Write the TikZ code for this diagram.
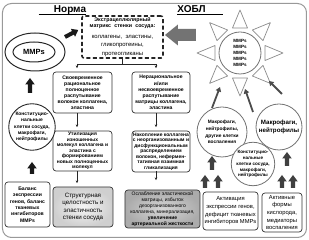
\documentclass[tikz,border=0pt]{standalone}
\usepackage{fontspec}
\setmainfont{Liberation Sans}
\usetikzlibrary{arrows.meta,shapes.geometric}
\newcommand\blkarr[8]{%
  \begin{scope}[shift={(#1,#2)},rotate=#3]
    \fill[#8] (0,#5) -- ({#4-#7},#5) -- ({#4-#7},#6) -- (#4,0) -- ({#4-#7},-#6) -- ({#4-#7},-#5) -- (0,-#5) -- cycle;
  \end{scope}}
\begin{document}
\begin{tikzpicture}[x=1pt,y=-1pt,
  box/.style={draw=black!80,line width=0.7pt,rounded corners=3pt,align=center,inner sep=0pt,fill=white},
  bsm/.style={font=\bfseries\fontsize{5.1}{6.1}\selectfont},
  bxs/.style={font=\bfseries\fontsize{4.95}{5.5}\selectfont},
  conn/.style={draw=black!85,line width=0.5pt,-{Stealth[length=2.8pt,width=2.6pt]},shorten >=3.5pt},
  ray/.style={draw=black!70,line width=1.8pt,-{Triangle[length=4.5pt,width=5.5pt]}},
  circ/.style={circle,draw=black!55,line width=0.8pt,align=center,inner sep=0pt,fill=white},
  tri/.style={draw=black!45,line width=0.7pt,fill=white,line join=round},
  ttl/.style={font=\bfseries\fontsize{10}{12}\selectfont,anchor=base,inner sep=0pt}]
\useasboundingbox (0,0) rectangle (309,240);
\draw[draw=black!40,line width=1pt,rounded corners=9pt] (2.5,3.5) rectangle (306.5,237.5);

% titles
\node[ttl] (norma) at (70,13) {Норма};
\draw[line width=0.8pt] ([xshift=-15pt,yshift=-1.3pt]norma.base west) -- ([yshift=-1.3pt]norma.base east);
\node[ttl] (copd) at (191.5,13) {ХОБЛ};
\draw[line width=0.8pt] ([yshift=-1.3pt]copd.base west) -- ([xshift=17pt,yshift=-1.3pt]copd.base east);

% extracellular matrix
\node[draw=black!85,line width=1.6pt,dash pattern=on 4pt off 2.5pt,rounded corners=2pt,
      minimum width=81pt,minimum height=42pt,inner sep=0pt,text width=80pt,align=center] (ecm) at (122.5,37)
  {{\bfseries\fontsize{5.3}{6}\selectfont Экстрацеллюлярный\\матрикс стенки сосуда:\par}
   \vspace{2pt}
   {\fontsize{5.9}{8.6}\selectfont коллагены, эластины,\\гликопротеины,\\протеогликаны\par}};

% MMPs ellipse (norma)
\node[ellipse,draw=black!85,line width=1pt,minimum width=60pt,minimum height=38pt] (mmpo) at (35,52) {};
\node[ellipse,draw=black!85,line width=1pt,minimum width=42pt,minimum height=20pt,inner sep=0pt,
      font=\bfseries\fontsize{7.5}{8}\selectfont] (mmpi) at (34,52) {MMPs};

% boxes
\node[box,bsm,minimum width=59pt,minimum height=41pt] (A) at (82.5,92.5)
  {Своевременное\\рациональное\\полноценное\\распутывание\\волокон коллагена,\\эластина};
\node[box,bsm,minimum width=58pt,minimum height=41pt] (B) at (161,92.5)
  {Нерациональное\\и/или\\несвоевременное\\распутывание\\матрицы коллагена,\\эластина};
\node[box,bxs,minimum width=59pt,minimum height=40pt] (C) at (82.5,151)
  {Утилизация\\изношенных\\молекул коллагена и\\эластина с\\формированием\\новых полноценных\\молекул};
\node[box,bxs,minimum width=58pt,minimum height=41pt] (D) at (161,151.5)
  {Накопление коллагена\\с неорганизованным и\\дисфункциональным\\распределением\\волокон, нефермен-\\тативная взаимная\\гликализация};
\node[box,inner color=gray!8,outer color=gray!38,font=\fontsize{6.2}{7.6}\selectfont,minimum width=60pt,minimum height=40pt] (E) at (83,207)
  {Структурная\\целостность и\\эластичность\\стенки сосуда};
\node[box,inner color=gray!32,outer color=gray!66,font=\fontsize{5}{5.9}\selectfont,minimum width=75pt,minimum height=38pt] (F) at (162.5,209)
  {Ослабление эластической\\матрицы, избыток\\дезорганизованного\\коллагена, минерализация,\\\textbf{увеличение}\\\textbf{артериальной жесткости}};
\node[box,font=\bfseries\fontsize{5.1}{6.4}\selectfont,minimum width=45pt,minimum height=45pt] (G) at (27.5,204.5)
  {Баланс\\экспрессии\\генов, баланс\\тканевых\\ингибиторов\\MMPs};
\node[box,font=\fontsize{5.8}{7.6}\selectfont,minimum width=55pt,minimum height=38pt] (H) at (230.5,211)
  {Активация\\экспрессии генов,\\дефицит тканевых\\ингибиторов MMPs};
\node[box,font=\fontsize{5.8}{7.6}\selectfont,minimum width=40pt,minimum height=39pt] (I) at (282,212.5)
  {Активные\\формы\\кислорода,\\медиаторы\\воспаления};

% left circle
\node[circ,draw=black!85,line width=0.9pt,minimum size=44pt,font=\bfseries\fontsize{4.9}{6.4}\selectfont] (kl) at (32,127)
  {Конституцио-\\нальные\\клетки сосуда,\\макрофаги,\\нейтрофилы};

% connectors
\coordinate (colL) at (77,0);
\coordinate (colR) at (156,0);
\coordinate (split) at ([yshift=-5pt]ecm.south);
\draw[draw=black!85,line width=0.5pt] (ecm.south) -- (split);
\draw[draw=black!85,line width=0.5pt] (split -| colL) -- (split -| colR);
\draw[conn] (split -| colL) -- (A.north -| colL);
\draw[conn] (split -| colR) -- (B.north -| colR);
\draw[conn] (A.south -| colL) -- (C.north -| colL);
\draw[conn] (B.south -| colR) -- (D.north -| colR);
\draw[conn] (C.south -| colL) -- (E.north -| colL);
\draw[conn] ([yshift=1pt]D.south -| colR) -- ([yshift=6pt]F.north -| colR);

% sun of MMPs
\node[circ,minimum size=42pt,font=\bfseries\fontsize{4.6}{6}\selectfont] (sun) at (240,53)
  {MMPs\\MMPs\\MMPs\\MMPs\\MMPs};
\foreach \a in {0,45,...,315}{
  \begin{scope}[shift={(sun.center)},rotate=\a]
    \draw[tri] (25,-7.5) -- (43,0) -- (25,7.5) -- cycle;
  \end{scope}}

% inflammatory circles
\node[circ,minimum size=50pt,font=\bfseries\fontsize{4.8}{6.7}\selectfont] (c1) at (222,132)
  {Макрофаги,\\нейтрофилы,\\другие клетки\\воспаления};
\node[circ,minimum size=46pt,font=\bfseries\fontsize{6.2}{7.4}\selectfont] (c2) at (279,127)
  {Макрофаги,\\нейтрофилы};
\node[circ,minimum size=41pt,font=\bfseries\fontsize{4.6}{5.9}\selectfont] (c3) at (253,164)
  {Конституцио-\\нальные\\клетки сосуда,\\макрофаги,\\нейтрофилы};

% rays to triangles
\coordinate (r1s) at (212,108); \coordinate (r1e) at (220,87);
\coordinate (r2s) at (253,112); \coordinate (r2e) at (245,89);
\coordinate (r3s) at (282,94);  \coordinate (r3e) at (269,81);
\draw[ray] (r1s) -- (r1e);
\draw[ray] (r2s) -- (r2e);
\draw[ray] (r3s) -- (r3e);

% block arrows
\blkarr{65}{37}{28}{15}{2}{4.5}{6}{black!90}
\blkarr{196}{35}{180}{31}{6}{10.5}{13}{black!55}
\blkarr{30}{93}{90}{15}{2.2}{4.8}{6.5}{black!90}
\blkarr{32}{174}{90}{12}{2.2}{4.8}{6.5}{black!90}
\blkarr{212}{170}{90}{14}{2.2}{4.8}{6.5}{black!75}
\blkarr{205}{188}{90}{13}{2.2}{4.8}{6.5}{black!75}
\blkarr{218}{188}{90}{13}{2.2}{4.8}{6.5}{black!75}
\blkarr{287}{166}{90}{14}{2.2}{4.8}{6.5}{black!75}
\blkarr{282}{188}{90}{13}{2.2}{4.8}{6.5}{black!75}
\blkarr{293}{188}{90}{13}{2.2}{4.8}{6.5}{black!75}
\end{tikzpicture}
\end{document}
